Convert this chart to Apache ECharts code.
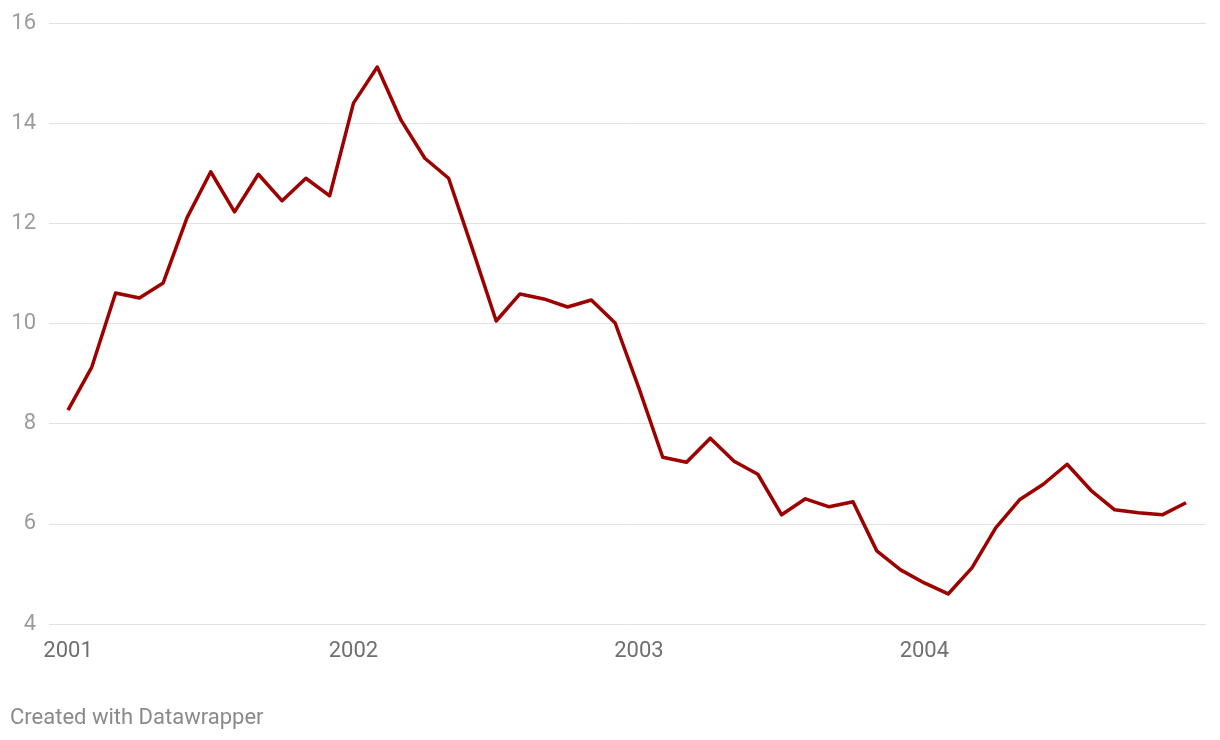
<!DOCTYPE html>
<html>
<head>
<meta charset="utf-8">
<script src="https://cdn.jsdelivr.net/npm/echarts@6/dist/echarts.min.js"></script>
<style>
html,body{margin:0;padding:0;background:#fff;}
#chart{width:1220px;height:740px;}
</style>
</head>
<body>
<div id="chart"></div>
<script>
const years = ['2001', '2002', '2003', '2004'];
const yearTickIndex = [0, 12, 24, 36];
const yTicks = [4, 6, 8, 10, 12, 14, 16];
const values = [
  8.27, 9.13, 10.61, 10.51, 10.81, 12.11, 13.03, 12.23, 12.98, 12.45, 12.90, 12.55,
  14.40, 15.12, 14.06, 13.30, 12.90, 11.49, 10.05, 10.59, 10.49, 10.33, 10.47, 10.01,
  8.71, 7.33, 7.23, 7.71, 7.25, 6.99, 6.18, 6.50, 6.34, 6.44, 5.46, 5.08,
  4.82, 4.60, 5.12, 5.92, 6.48, 6.79, 7.19, 6.67, 6.28, 6.22, 6.18, 6.42
];
const seriesData = values.map((v, i) => [i, v]);

const chart = echarts.init(document.getElementById('chart'), null, {renderer: 'canvas'});
chart.setOption({
  animation: false,
  backgroundColor: '#ffffff',
  textStyle: {fontFamily: 'Roboto'},
  grid: {left: 49, right: 14, top: 23, bottom: 116, containLabel: false},
  xAxis: {
    type: 'value',
    min: -0.8,
    max: 47.84,
    axisLine: {show: false},
    axisTick: {show: false},
    splitLine: {show: false},
    axisLabel: {
      customValues: yearTickIndex,
      formatter: function (v) {
        const k = yearTickIndex.indexOf(Math.round(v));
        return k >= 0 ? years[k] : '';
      },
      color: '#6f6f6f',
      fontSize: 22,
      fontFamily: 'Roboto',
      margin: 16
    }
  },
  yAxis: {
    type: 'value',
    min: 4,
    max: 16,
    interval: 2,
    axisLine: {show: false},
    axisTick: {show: false},
    splitLine: {show: true, lineStyle: {color: '#e2e2e2', width: 1}},
    axisLabel: {
      color: '#9c9c9c',
      fontSize: 22,
      fontFamily: 'Roboto',
      margin: 13,
      formatter: function (v) { return yTicks.indexOf(v) >= 0 ? String(v) : ''; }
    }
  },
  series: [{
    type: 'line',
    data: seriesData,
    showSymbol: false,
    symbol: 'none',
    lineStyle: {color: '#9e0000', width: 3.5, join: 'round'},
    itemStyle: {color: '#9e0000'}
  }],
  graphic: [{
    type: 'text',
    left: 10,
    top: 707,
    style: {text: 'Created with Datawrapper', fill: '#8a8a8a', fontSize: 22, fontFamily: 'Roboto'}
  }]
});
</script>
</body>
</html>
